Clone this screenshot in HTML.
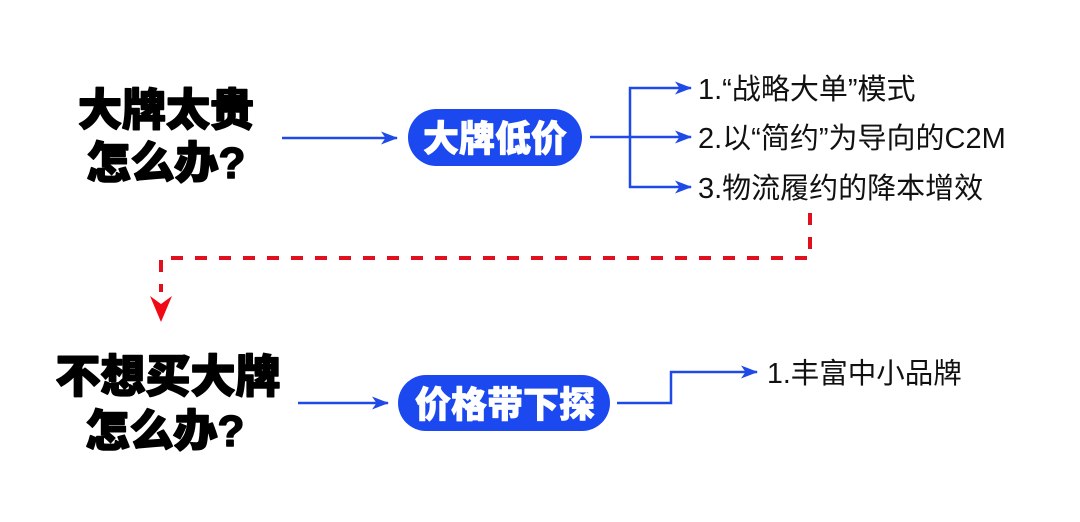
<!DOCTYPE html>
<html>
<head>
<meta charset="utf-8">
<style>
  html, body { margin:0; padding:0; background:#ffffff; }
  body { width:1080px; height:522px; overflow:hidden; }
  svg { display:block; }
  .title { font-family:"Liberation Sans","Noto Sans CJK SC",sans-serif; font-weight:900; fill:#000; stroke:#000; stroke-width:1.6; stroke-linejoin:round; }
  .pill { font-family:"Liberation Sans","Noto Sans CJK SC",sans-serif; font-weight:900; fill:#fff; stroke:#fff; stroke-width:0.8; stroke-linejoin:round; }
  .item { font-family:"Liberation Sans","Noto Sans CJK SC",sans-serif; font-weight:400; fill:#111; }
</style>
</head>
<body>
<svg width="1080" height="522" viewBox="0 0 1080 522" xmlns="http://www.w3.org/2000/svg">
  <defs>
    <marker id="ab" viewBox="0 0 17 13" refX="16" refY="6.5" markerWidth="17" markerHeight="13" markerUnits="userSpaceOnUse" orient="auto">
      <path d="M0,0 L17,6.5 L0,13 L4.5,6.5 Z" fill="#1f4ae8"/>
    </marker>
  </defs>

  <!-- Titles -->
  <text class="title" x="166" y="125" font-size="44" text-anchor="middle">大牌太贵</text>
  <text class="title" x="166" y="178" font-size="44" text-anchor="middle">怎么办?</text>
  <text class="title" x="168" y="392" font-size="45" text-anchor="middle">不想买大牌</text>
  <text class="title" x="165" y="446" font-size="44" text-anchor="middle">怎么办?</text>

  <!-- Top flow -->
  <line x1="282" y1="138" x2="397" y2="138" stroke="#1f4ae8" stroke-width="2.5" marker-end="url(#ab)"/>
  <rect x="408" y="109" width="174" height="57" rx="28.5" fill="#1c48f0"/>
  <text class="pill" x="495" y="151" font-size="36" text-anchor="middle">大牌低价</text>

  <line x1="590" y1="137" x2="630" y2="137" stroke="#1f4ae8" stroke-width="2.5"/>
  <line x1="630" y1="87" x2="630" y2="188" stroke="#1f4ae8" stroke-width="2.5"/>
  <line x1="629" y1="88" x2="691" y2="88" stroke="#1f4ae8" stroke-width="2.5" marker-end="url(#ab)"/>
  <line x1="629" y1="137" x2="691" y2="137" stroke="#1f4ae8" stroke-width="2.5" marker-end="url(#ab)"/>
  <line x1="629" y1="187" x2="691" y2="187" stroke="#1f4ae8" stroke-width="2.5" marker-end="url(#ab)"/>

  <text class="item" x="698" y="99" font-size="29">1.“战略大单”模式</text>
  <text class="item" x="698" y="148" font-size="29">2.以“简约”为导向的C2M</text>
  <text class="item" x="698" y="198" font-size="29">3.物流履约的降本增效</text>

  <!-- Red dashed connector -->
  <path d="M810,213 L810,258 L161,258 L161,292" fill="none" stroke="#e0101e" stroke-width="4" stroke-dasharray="12 12"/>
  <path d="M150,296 L161,304 L172,296 L161,322 Z" fill="#f00a14"/>

  <!-- Bottom flow -->
  <line x1="298" y1="403" x2="388" y2="403" stroke="#1f4ae8" stroke-width="2.5" marker-end="url(#ab)"/>
  <rect x="398" y="375" width="212" height="56" rx="28" fill="#1c48f0"/>
  <text class="pill" x="505" y="417" font-size="36" text-anchor="middle">价格带下探</text>

  <path d="M617,403 L671,403 L671,372 L757,372" fill="none" stroke="#1f4ae8" stroke-width="2.5" marker-end="url(#ab)"/>
  <text class="item" x="767" y="383" font-size="28.5">1.丰富中小品牌</text>
</svg>
</body>
</html>
